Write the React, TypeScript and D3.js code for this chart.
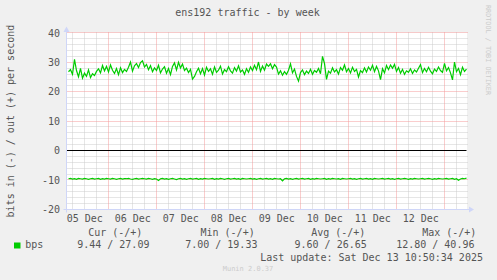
import React from "react";
import * as d3 from "d3";

// ---- data (hourly averages, bits per second) ----
const outValues: number[] = [
  26.8, 27.5, 25.9, 31.0, 27.2, 25.1, 27.9, 24.6, 26.3, 25.2,
  27.4, 24.8, 26.1, 25.5, 26.9, 27.8, 26.4, 28.9, 27.1, 28.6,
  26.7, 29.1, 27.3, 26.2, 27.9, 25.8, 28.1, 26.5, 27.6, 26.9,
  28.3, 30.1, 27.0, 28.8, 29.6, 28.2, 29.9, 30.5, 28.4, 29.3,
  27.5, 28.9, 26.8, 28.1, 27.2, 29.0, 26.4, 27.7, 28.5, 26.3,
  27.9, 25.8, 28.6, 29.8, 27.4, 30.0, 28.1, 29.4, 27.2, 28.0,
  26.5, 27.6, 24.3, 25.2, 26.8, 28.0, 26.1, 27.9, 25.7, 28.3,
  26.9, 27.8, 25.9, 28.4, 26.6, 27.3, 28.7, 26.0, 27.5, 26.8,
  28.5, 27.1, 26.3, 28.2, 27.0, 28.8, 26.7, 27.4, 25.9, 27.8,
  26.6, 28.4, 27.2, 29.0, 27.5, 30.1, 26.9, 28.7, 27.3, 29.4,
  28.6, 29.5, 27.8, 29.2, 28.4, 26.0, 27.1, 25.6, 26.8, 25.9,
  27.3, 29.5, 26.4, 27.7, 25.2, 23.6, 26.5, 27.4, 25.8, 27.0,
  26.2, 27.6, 25.9, 27.2, 26.6, 27.9, 26.1, 32.0, 29.6, 24.2,
  27.0, 26.3, 28.1, 26.7, 27.5, 26.0, 28.2, 27.3, 29.1, 26.8,
  27.9, 26.4, 28.3, 26.9, 27.6, 25.0, 27.2, 26.5, 28.1, 26.7,
  28.4, 27.3, 29.0, 26.8, 28.6, 27.1, 24.1, 27.8, 26.4, 28.9,
  27.5, 29.1, 28.0, 29.3, 26.9, 28.2, 26.3, 27.6, 25.9, 27.1,
  26.6, 27.8, 26.2, 27.4, 26.7, 28.0, 29.2, 26.5, 27.9, 26.8,
  28.3, 27.0, 26.1, 27.7, 26.9, 28.4, 27.2, 26.6, 29.6, 27.1,
  28.2, 26.4, 24.0, 30.1, 26.8, 27.9, 25.8, 28.3, 26.9, 27.7,
];

const inValues: number[] = [
  9.6, 9.5, 9.7, 9.6, 9.8, 9.5, 9.6, 9.7, 9.5, 9.6, 9.8, 9.6, 9.5, 9.7, 9.6, 9.5, 9.8, 9.6, 9.7, 9.5,
  9.6, 9.7, 9.5, 9.6, 9.8, 9.6, 9.5, 9.7, 9.6, 9.6, 9.5, 9.7, 9.8, 9.6, 9.5, 9.7, 9.6, 9.5, 9.6, 9.7,
  9.5, 9.6, 9.8, 9.6, 9.7, 10.2, 9.6, 9.5, 9.7, 9.6, 9.8, 9.6, 9.5, 9.7, 9.9, 9.6, 9.5, 9.7, 9.6, 9.8,
  9.6, 9.5, 9.7, 9.6, 9.5, 9.8, 9.6, 9.7, 9.5, 9.6, 9.7, 9.6, 9.5, 9.8, 9.6, 9.7, 9.5, 9.6, 9.8, 9.6,
  9.5, 9.7, 9.6, 9.5, 9.7, 9.6, 9.8, 9.5, 9.6, 9.7, 9.6, 9.5, 9.7, 9.6, 9.8, 9.6, 9.5, 9.7, 9.6, 9.5,
  9.7, 9.6, 9.8, 9.5, 9.6, 9.7, 9.6, 10.3, 9.6, 9.5, 9.7, 9.6, 9.8, 9.6, 9.5, 9.7, 9.6, 9.5, 9.7, 9.6,
  9.5, 9.8, 9.6, 9.7, 9.5, 9.6, 9.7, 9.6, 9.5, 9.8, 9.6, 9.7, 9.5, 9.6, 9.7, 9.6, 9.8, 9.5, 9.6, 9.7,
  9.6, 9.5, 9.7, 9.6, 9.8, 9.6, 9.5, 9.7, 9.6, 9.5, 9.7, 9.6, 9.8, 9.5, 9.6, 9.7, 9.6, 9.5, 9.7, 9.6,
  9.5, 9.7, 9.6, 9.8, 9.6, 9.5, 9.7, 9.6, 9.5, 9.6, 9.8, 9.6, 9.7, 9.5, 9.6, 9.7, 9.6, 9.5, 9.7, 9.6,
  9.5, 9.6, 9.8, 9.6, 9.7, 9.5, 9.6, 9.7, 9.6, 9.5, 9.7, 9.6, 9.5, 9.8, 9.6, 10.1, 9.7, 9.5, 9.6, 9.4,
];

const yTicks: number[] = [40, 30, 20, 10, 0, -10, -20];
const legendHeaders: string[] = ["Cur (-/+)", "Min (-/+)", "Avg (-/+)", "Max (-/+)"];
const legendValues: string[] = ["9.44 / 27.09", "7.00 / 19.33", "9.60 / 26.65", "12.80 / 40.96"];
const seriesName = "bps";
const title = "ens192 traffic - by week";
const yLabel = "bits in (-) / out (+) per second";
const lastUpdate = "Last update: Sat Dec 13 10:50:34 2025";
const endTime = Date.UTC(2025, 11, 13, 10, 50, 34);
const stepMs = 60 * 60 * 1000;

// ---- layout ----
const W = 497, H = 280;
const X0 = 66.5, X1 = 466.5, YT = 32.9, YB = 209.3;
const FONT = "'DejaVu Sans Mono', monospace";
const TXT = "#555555";
const GREEN = "#00cc00";
const AXIS = "#cfd6f8";
const headerX = [88.2, 200.5, 311.2, 422.2];
const valueX = [77.2, 185.2, 294.5, 396.2];

export default function App() {
  const n = outValues.length;
  const startTime = endTime - n * stepMs;
  const x = d3.scaleUtc().domain([new Date(startTime), new Date(endTime)]).range([X0, X1]);
  const y = d3.scaleLinear().domain([-20, 40]).range([YB, YT]);
  const sx = (v: number) => Math.floor(v) + 0.5;
  const sy = (v: number) => Math.floor(y(v)) + 0.5;

  const d0 = new Date(startTime), d1 = new Date(endTime);
  const minorX = d3.utcHour.every(6)!.range(d0, d1).filter((d) => d.getUTCHours() !== 0);
  const majorX = d3.utcDay.range(d0, d1);
  const labelDays = d3.utcDay.range(d3.utcDay.floor(d0), d1)
    .map((d) => d3.utcHour.offset(d, 12))
    .filter((d) => d >= d0 && d <= d1);
  const fmt = d3.utcFormat("%d %b");
  const minorY = d3.range(-20, 41, 2).filter((v) => v % 10 !== 0);
  const majorY = d3.range(-20, 41, 10).filter((v) => v !== 0);

  const tAt = (i: number) => new Date(startTime + (i + 1) * stepMs);
  const line = d3.line<number>().x((_, i) => x(tAt(i))).y((v) => y(v)).curve(d3.curveLinear);
  const outPath = line(outValues) || "";
  const inPath = line(inValues.map((v) => -v)) || "";

  return (
    <svg width={W} height={H} style={{ position: "absolute", left: 0, top: 0 }} xmlns="http://www.w3.org/2000/svg">
      <rect x={0} y={0} width={W} height={H} fill="#f0f0f0" />
      <rect x={X0} y={sy(40)} width={X1 - X0 + 0.5} height={sy(-20) - sy(40)} fill="#ffffff" />

      {/* minor grid */}
      <g stroke="#cccccc" strokeWidth={1} strokeDasharray="1,1" fill="none">
        {minorX.map((d, i) => (
          <line key={"mx" + i} x1={sx(x(d))} x2={sx(x(d))} y1={sy(-20)} y2={sy(40)} />
        ))}
        {minorY.map((v) => (
          <line key={"my" + v} x1={X0} x2={X1 + 1} y1={sy(v)} y2={sy(v)} />
        ))}
      </g>
      {/* major grid */}
      <g stroke="#f59a9a" strokeWidth={1} strokeDasharray="1,1" fill="none">
        {majorX.map((d, i) => (
          <line key={"Mx" + i} x1={sx(x(d))} x2={sx(x(d))} y1={sy(-20)} y2={sy(40)} />
        ))}
        {majorY.map((v) => (
          <line key={"My" + v} x1={X0} x2={X1 + 1} y1={sy(v)} y2={sy(v)} />
        ))}
      </g>

      {/* zero line */}
      <line x1={X0} x2={X1} y1={sy(0)} y2={sy(0)} stroke="#000000" strokeWidth={1} />

      {/* series */}
      <path d={inPath} fill="none" stroke={GREEN} strokeWidth={1.2} />
      <path d={outPath} fill="none" stroke={GREEN} strokeWidth={1.2} />

      {/* axes */}
      <line x1={X0} x2={X0} y1={sy(-20) + 3} y2={28} stroke={AXIS} strokeWidth={1} />
      <path d={`M${X0 - 3},${32} L${X0 + 3},${32} L${X0},${26.5} Z`} fill={AXIS} />
      <line x1={X0 - 3} x2={471} y1={sy(-20)} y2={sy(-20)} stroke={AXIS} strokeWidth={1} />
      <path d={`M469,${sy(-20) - 3} L469,${sy(-20) + 3} L474,${sy(-20)} Z`} fill={AXIS} />

      {/* title */}
      <text x={247.5} y={16} textAnchor="middle" fontFamily={FONT} fontSize={10} fill={TXT}>{title}</text>

      {/* y tick labels */}
      {yTicks.map((v) => (
        <text key={"yt" + v} x={60} y={y(v) + 3.6} textAnchor="end" fontFamily={FONT} fontSize={10} fill={TXT}>{v}</text>
      ))}

      {/* x labels */}
      {labelDays.map((d, i) => (
        <text key={"xl" + i} x={x(d)} y={221.5} textAnchor="middle" fontFamily={FONT} fontSize={10} fill={TXT}>{fmt(d)}</text>
      ))}

      {/* y axis label */}
      <text transform={`translate(14.3, ${(YT + YB) / 2}) rotate(-90)`} textAnchor="middle" fontFamily={FONT} fontSize={10} fill={TXT}>{yLabel}</text>

      {/* watermark */}
      <text transform="translate(486.3, 5) rotate(90)" fontFamily={FONT} fontSize={6.8} fill="#cccccc">RRDTOOL / TOBI OETIKER</text>

      {/* legend */}
      {legendHeaders.map((h, i) => (
        <text key={"lh" + i} x={headerX[i]} y={236.3} fontFamily={FONT} fontSize={10} fill={TXT} style={{ whiteSpace: "pre" }}>{h}</text>
      ))}
      <rect x={14} y={242.5} width={6.5} height={6} fill={GREEN} />
      <text x={25.3} y={248} fontFamily={FONT} fontSize={10} fill={TXT}>{seriesName}</text>
      {legendValues.map((v, i) => (
        <text key={"lv" + i} x={valueX[i]} y={248} fontFamily={FONT} fontSize={10} fill={TXT} style={{ whiteSpace: "pre" }}>{v}</text>
      ))}
      <text x={260.2} y={260.6} fontFamily={FONT} fontSize={10} fill={TXT}>{lastUpdate}</text>
      <text x={248} y={271} textAnchor="middle" fontFamily={FONT} fontSize={7} fill="#cccccc">Munin 2.0.37</text>
    </svg>
  );
}
